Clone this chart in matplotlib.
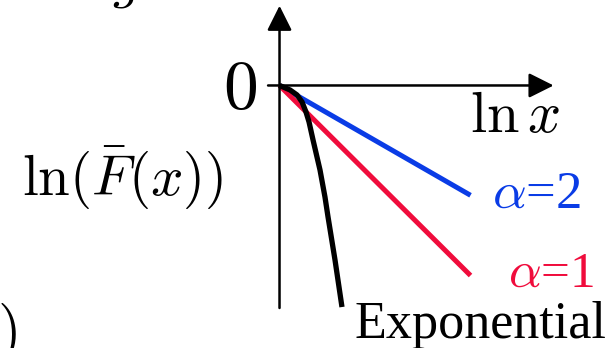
import matplotlib
matplotlib.use("Agg")
import matplotlib.pyplot as plt

plt.rcParams['mathtext.fontset'] = 'cm'
plt.rcParams['font.family'] = ['Liberation Serif', 'DejaVu Serif']

# Schematic data (ln x, ln F-bar(x))
lnx_power = [0.0, 2.0]
lnF_alpha2 = [0.0, -1.15]
lnF_alpha1 = [0.0, -1.99]
lnx_exp = [0.0, 0.11, 0.183, 0.236, 0.277, 0.309, 0.351, 0.424, 0.476, 0.508, 0.581, 0.654]
lnF_exp = [0.0, -0.047, -0.099, -0.173, -0.277, -0.382, -0.571, -0.885, -1.168, -1.377, -1.827, -2.32]

labels = {"a2": r"$\alpha$=2", "a1": r"$\alpha$=1", "exp": "Exponential"}

blue = "#0a3ce6"
red = "#f00c3c"

fig = plt.figure(figsize=(6.15, 3.48), dpi=100)
ax = fig.add_axes([0, 0, 1, 1])
ax.set_xlim(-2.927, 3.513)
ax.set_ylim(-2.749, 0.895)
ax.axis('off')

# axes with arrows
arr = dict(arrowstyle='-|>,head_length=0.4,head_width=0.2', lw=1.8, color='k',
           mutation_scale=38, shrinkA=0, shrinkB=0)
ax.annotate('', xy=(2.87, 0.0), xytext=(-0.12, 0.0), arrowprops=arr)
ax.annotate('', xy=(0.0, 0.835), xytext=(0.0, -2.33), arrowprops=arr)

ax.plot(lnx_power, lnF_alpha2, color=blue, lw=3.6, solid_capstyle='butt')
ax.plot(lnx_power, lnF_alpha1, color=red, lw=3.6, solid_capstyle='butt')
ax.plot(lnx_exp, lnF_exp, color='k', lw=3.8, solid_capstyle='butt')

ax.text(-0.236, -0.236, r"$0$", fontsize=50, ha='right', va='baseline')
ax.text(1.995, -0.487, r"$\ln x$", fontsize=42, ha='left', va='baseline')
ax.text(-1.64, -1.147, r"$\ln(\bar{F}(x))$", fontsize=41, ha='center', va='baseline')
ax.text(2.225, -1.283, labels["a2"], fontsize=38, color=blue, ha='left', va='baseline')
ax.text(2.393, -2.11, labels["a1"], fontsize=37, color=red, ha='left', va='baseline')
ax.text(0.79, -2.644, labels["exp"], fontsize=37.5, ha='left', va='baseline')

# partial cropped texts from the surrounding figure
ax.text(-1.61, 0.93, r"$g$", fontsize=40, ha='center', va='baseline')
ax.text(-2.74, -2.76, r"$y)$", fontsize=44, ha='right', va='baseline')

fig.savefig("out.png", dpi=100)
